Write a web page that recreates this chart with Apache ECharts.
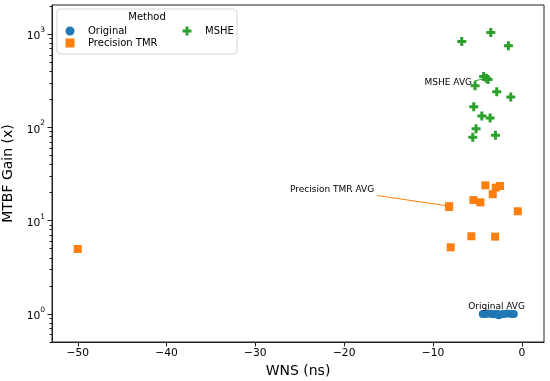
<!DOCTYPE html>
<html><head><meta charset="utf-8">
<script src="https://cdn.jsdelivr.net/npm/echarts@6/dist/echarts.min.js"></script>
<style>html,body{margin:0;padding:0;background:#fff}#c{width:550px;height:381px}</style>
</head><body><div id="c"></div>
<script>
// ---- tick labels ----
const xTicks = [-50, -40, -30, -20, -10, 0];
const yTicks = [1, 10, 100, 1000];
const yMinorTicks = [0.5, 0.6, 0.7, 0.8, 0.9, 2, 3, 4, 5, 6, 7, 8, 9, 20, 30, 40, 50, 60, 70, 80, 90,
  200, 300, 400, 500, 600, 700, 800, 900, 2000];

// ---- categories ----
const methods = ['Original', 'Precision TMR', 'MSHE'];

// ---- series values (WNS in ns, MTBF gain) ----
const originalWNS  = [-4.4, -4.1, -3.8, -3.4, -3.1, -2.9, -2.6, -2.3, -2.0, -1.6, -1.2, -0.9];
const originalGain = [1.0, 1.0, 1.01, 1.0, 0.99, 1.0, 0.97, 0.99, 1.0, 1.01, 1.0, 1.0];

const precisionWNS  = [-50.0, -8.0, -8.2, -5.68, -5.45, -4.66, -4.1, -3.27, -3.0, -2.93, -2.44, -0.45];
const precisionGain = [4.97, 5.18, 14.0, 6.8, 16.6, 15.7, 23.9, 19.2, 6.74, 22.6, 23.5, 12.6];

const msheWNS  = [-6.76, -5.52, -5.41, -5.26, -5.15, -4.5, -4.3, -3.8, -3.57, -3.49, -2.97, -2.82, -1.51, -1.24];
const msheGain = [835, 78.2, 166, 279, 96.8, 132, 350, 325, 126, 1042, 82.2, 241, 750, 211];

// ---- averages and annotation anchors ----
const originalAvg  = [-2.8, 1.0];
const precisionAvg = [-8.18, 14.3];
const msheAvg      = [-4.0, 336];
const originalText  = [-2.84, 1.19];
const precisionText = [-16.63, 21.3];
const precisionArrowFrom = [-16.3, 18.6];
const msheText  = [-5.6, 298];
const msheArrowFrom = [-5.37, 314];

const colors = ['#1f77b4', '#ff7f0e', '#2ca02c'];
const FONT = 'DejaVu Sans';
const plusPath = 'path://M2,0H4V2H6V4H4V6H2V4H0V2H2Z';

function zip(xs, ys) { return xs.map((x, i) => [x, ys[i]]); }

const chart = echarts.init(document.getElementById('c'), null, {renderer: 'canvas'});
const axisColor = '#222';
const gridBox = {left: 52, right: 6, top: 5, bottom: 39, containLabel: false, outerBoundsMode: 'none'};
const legendText = {rich: {t: {padding: [0, 0, 0, 8.5], fontSize: 10, lineHeight: 12, color: '#000', fontFamily: FONT}}};

chart.setOption({
  animation: false,
  backgroundColor: '#fff',
  textStyle: {fontFamily: FONT},
  grid: [
    Object.assign({show: true, borderColor: axisColor, borderWidth: 1}, gridBox),
    Object.assign({show: false}, gridBox)
  ],
  xAxis: [{
    gridIndex: 0, type: 'value', min: -52.9, max: 2.5,
    name: 'WNS (ns)', nameLocation: 'middle', nameGap: 20,
    nameTextStyle: {fontSize: 14, color: '#000', fontFamily: FONT},
    splitLine: {show: false},
    axisLine: {show: true, onZero: false, lineStyle: {color: axisColor, width: 1}},
    axisTick: {show: true, length: 4.5, lineStyle: {color: axisColor}, customValues: xTicks},
    axisLabel: {customValues: xTicks, margin: 6, fontSize: 10.7, color: '#000', fontFamily: FONT,
      formatter: v => String(v).replace('-', '\u2212')}
  }, {
    gridIndex: 1, type: 'value', min: -52.9, max: 2.5, show: false,
    axisLine: {onZero: false}
  }],
  yAxis: [{
    gridIndex: 0, type: 'log', logBase: 10, min: 0.5, max: 2050, position: 'left',
    name: 'MTBF Gain (x)', nameLocation: 'middle', nameGap: 31,
    nameTextStyle: {fontSize: 14, color: '#000', fontFamily: FONT},
    splitLine: {show: false},
    axisLine: {show: true, onZero: false, lineStyle: {color: axisColor, width: 1}},
    axisTick: {show: true, length: 4.5, lineStyle: {color: axisColor}, customValues: yTicks},
    axisLabel: {customValues: yTicks, margin: 7, color: '#000', fontFamily: FONT,
      formatter: v => '{b|10}{s|' + Math.round(Math.log10(v)) + '}',
      rich: {
        b: {fontSize: 10.7, lineHeight: 16, verticalAlign: 'bottom', color: '#000', fontFamily: FONT},
        s: {fontSize: 7.5, lineHeight: 16, verticalAlign: 'top', color: '#000', fontFamily: FONT}
      }}
  }, {
    gridIndex: 1, type: 'log', logBase: 10, min: 0.5, max: 2050, position: 'left',
    splitLine: {show: false},
    axisLine: {show: false, onZero: false},
    axisTick: {show: true, length: 2.5, lineStyle: {color: axisColor}, customValues: yMinorTicks},
    axisLabel: {show: false}
  }],
  legend: [{
    data: ['Original', 'Precision TMR'], orient: 'vertical', left: 65.5, top: 26, padding: 0,
    itemWidth: 9, itemHeight: 9, itemGap: 2,
    formatter: n => '{t|' + n + '}', textStyle: legendText
  }, {
    data: ['MSHE'], orient: 'vertical', left: 182.5, top: 26, padding: 0,
    itemWidth: 9, itemHeight: 9, itemGap: 2,
    formatter: n => '{t|' + n + '}', textStyle: legendText
  }],
  series: [{
    name: 'Original', type: 'scatter', symbol: 'circle', symbolSize: 8,
    itemStyle: {color: colors[0], opacity: 1},
    data: zip(originalWNS, originalGain).concat([originalAvg])
  }, {
    name: 'Precision TMR', type: 'scatter', symbol: 'rect', symbolSize: 8,
    itemStyle: {color: colors[1], opacity: 1},
    data: zip(precisionWNS, precisionGain).concat([precisionAvg]),
    markLine: {silent: true, symbol: ['none', 'none'], lineStyle: {color: colors[1], width: 1, type: 'solid'},
      label: {show: false}, data: [[{coord: precisionArrowFrom}, {coord: precisionAvg}]]}
  }, {
    name: 'MSHE', type: 'scatter', symbol: plusPath, symbolSize: 9,
    itemStyle: {color: colors[2], opacity: 1},
    data: zip(msheWNS, msheGain).concat([msheAvg]),
    markLine: {silent: true, symbol: ['none', 'none'], lineStyle: {color: colors[2], width: 1, type: 'solid'},
      label: {show: false}, data: [[{coord: msheArrowFrom}, {coord: msheAvg}]]}
  }]
});

// annotation texts, positioned through the chart's own coordinate system
function annText(coord, text, align) {
  const p = chart.convertToPixel({gridIndex: 0}, coord);
  return {type: 'text', z: 50, x: p[0], y: p[1], silent: true,
    style: {text: text, fill: '#000', fontSize: 9, fontFamily: FONT, align: align, verticalAlign: 'middle'}};
}
chart.setOption({
  graphic: [{
    type: 'rect', z: 1, shape: {x: 57, y: 9, width: 180, height: 45, r: 3},
    style: {fill: 'rgba(255,255,255,0.8)', stroke: '#d5d5d5', lineWidth: 1}
  }, {
    type: 'text', z: 2, x: 147, y: 17,
    style: {text: 'Method', fill: '#000', fontSize: 10, fontFamily: FONT, align: 'center', verticalAlign: 'middle'}
  },
  annText(originalText, 'Original AVG', 'center'),
  annText(precisionText, 'Precision TMR AVG', 'right'),
  annText(msheText, 'MSHE AVG', 'right')]
});
</script></body></html>
